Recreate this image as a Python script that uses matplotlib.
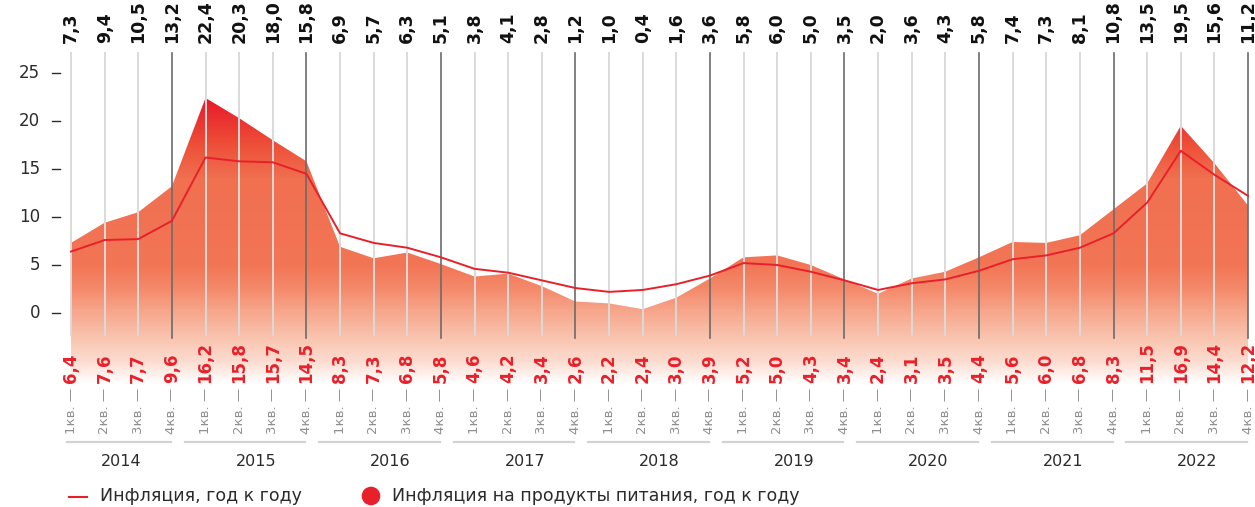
import numpy as np
import matplotlib
matplotlib.use("Agg")
import matplotlib.pyplot as plt
from matplotlib.patches import Polygon
from matplotlib.colors import to_rgba

# ---------------- data ----------------
years = ["2014", "2015", "2016", "2017", "2018", "2019", "2020", "2021", "2022"]
quarters = ["1кв.", "2кв.", "3кв.", "4кв."]
food_inflation = [7.3, 9.4, 10.5, 13.2, 22.4, 20.3, 18.0, 15.8,
                  6.9, 5.7, 6.3, 5.1, 3.8, 4.1, 2.8, 1.2,
                  1.0, 0.4, 1.6, 3.6, 5.8, 6.0, 5.0, 3.5,
                  2.0, 3.6, 4.3, 5.8, 7.4, 7.3, 8.1, 10.8,
                  13.5, 19.5, 15.6, 11.2]
inflation = [6.4, 7.6, 7.7, 9.6, 16.2, 15.8, 15.7, 14.5,
             8.3, 7.3, 6.8, 5.8, 4.6, 4.2, 3.4, 2.6,
             2.2, 2.4, 3.0, 3.9, 5.2, 5.0, 4.3, 3.4,
             2.4, 3.1, 3.5, 4.4, 5.6, 6.0, 6.8, 8.3,
             11.5, 16.9, 14.4, 12.2]
yticks = [0, 5, 10, 15, 20, 25]
legend_labels = ["Инфляция, год к году", "Инфляция на продукты питания, год к году"]

def fmt(v):
    return f"{v:.1f}".replace(".", ",")

RED = "#E8202A"
W, H = 1255, 507
fig = plt.figure(figsize=(W / 100, H / 100), dpi=100)
ax = fig.add_axes([0, 0, 1, 1])
ax.set_axis_off()

# pixel mapping helpers (x0 px of first quarter, step px; y px of 0, px per unit)
X0, DX = 71, 33.63
Y0, DY = 313, 9.6
ax.set_xlim(-X0 / DX, (W - X0) / DX)
ax.set_ylim((Y0 - H) / DY, Y0 / DY)

def vy(py):  # pixel-from-top -> data y
    return (Y0 - py) / DY

def vx(px):
    return (px - X0) / DX

n = len(food_inflation)
xs = np.arange(n)

# ---------------- gradient area ----------------
ybot = -8.0
ytop = 23.0
stops_v = [-7.3, -5.0, -2.5, 0.0, 2.5, 5.0, 14.0, 17.5, 22.5]
stops_c = ["#FFFFFF", "#FCDCD0", "#F9C3AE", "#F7A88E", "#F48A6A", "#F27556",
           "#F07050", "#EE4F38", "#E8182A"]
vs = np.linspace(ybot, ytop, 600)
cols = np.array([to_rgba(c) for c in stops_c])
img = np.zeros((len(vs), 1, 4))
for k in range(4):
    img[:, 0, k] = np.interp(vs, stops_v, cols[:, k])
im = ax.imshow(img, extent=[0, n - 1, ybot, ytop], origin="lower",
               aspect="auto", interpolation="bilinear", zorder=1)
verts = [(0, ybot)] + list(zip(xs, food_inflation)) + [(n - 1, ybot)]
poly = Polygon(verts, closed=True, facecolor="none", edgecolor="none")
ax.add_patch(poly)
im.set_clip_path(poly)

# ---------------- vertical grid lines ----------------
for i in xs:
    if i % 4 == 3:
        ax.plot([i, i], [vy(338), vy(53)], color="#6b6b6b", lw=1.2, zorder=2)
    else:
        ax.plot([i, i], [vy(335), vy(53)], color="#dadada", lw=1.4, zorder=2)

# ---------------- inflation line ----------------
ax.plot(xs, inflation, color=RED, lw=1.4, zorder=3)

# ---------------- y tick labels ----------------
for t in yticks:
    ax.text(vx(40), t, str(t), ha="right", va="center", fontsize=12,
            color="#2b2b2b", family="DejaVu Sans")
    ax.plot([vx(52), vx(60)], [t, t], color="#2b2b2b", lw=1.0)

# ---------------- top labels (food) ----------------
for i, v in enumerate(food_inflation):
    ax.text(i, vy(43), fmt(v), rotation=90, ha="center", va="bottom",
            fontsize=12.5, fontweight="bold", color="#111111", family="DejaVu Sans")

# ---------------- bottom labels ----------------
for i, v in enumerate(inflation):
    ax.text(i, vy(383), fmt(v), rotation=90, ha="center", va="bottom",
            fontsize=12, fontweight="bold", color=RED, family="DejaVu Sans", zorder=4)
    ax.text(i, vy(388), quarters[i % 4] + " —", rotation=90, ha="center", va="top",
            fontsize=9.5, color="#8f8f8f", family="DejaVu Sans", zorder=4)

# ---------------- year row ----------------
for k, yr in enumerate(years):
    start = 4 * k - 1 + 0.38 if k > 0 else -0.12
    end = 4 * k + 3 - 0.03
    ax.plot([start, end], [vy(442), vy(442)], color="#d3d3d3", lw=1.6)
    ax.text(4 * k + 1.5, vy(461), yr, ha="center", va="center", fontsize=11.5,
            color="#2b2b2b", family="DejaVu Sans")

# ---------------- legend ----------------
ax.plot([vx(69), vx(87)], [vy(497), vy(497)], color=RED, lw=1.5)
ax.text(vx(100), vy(496), legend_labels[0], ha="left", va="center", fontsize=12.5,
        color="#2b2b2b", family="DejaVu Sans")
ax.scatter([vx(371)], [vy(496)], s=180, color=RED, edgecolors="none", zorder=5)
ax.text(vx(392), vy(496), legend_labels[1], ha="left", va="center", fontsize=12.5,
        color="#2b2b2b", family="DejaVu Sans")

fig.savefig("out.png", dpi=100)
